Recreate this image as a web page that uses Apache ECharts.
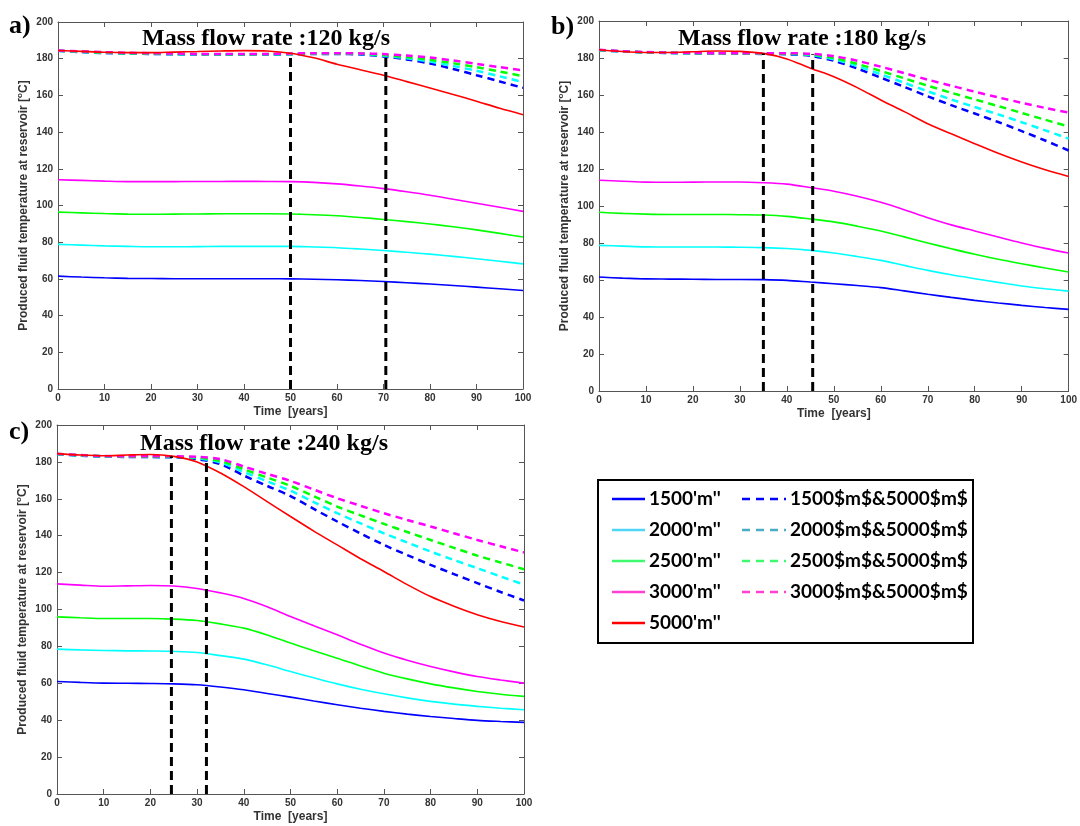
<!DOCTYPE html>
<html><head><meta charset="utf-8">
<script src="https://cdn.jsdelivr.net/npm/echarts@6/dist/echarts.min.js"></script>
<style>html,body{margin:0;padding:0;background:#fff}#c{width:1080px;height:826px}</style>
</head><body><div id="c"></div>
<script>
const YEARS = [0,5,10,15,20,25,30,35,40,45,50,55,60,65,70,75,80,85,90,95,100];
const X_TICKS = [0,10,20,30,40,50,60,70,80,90,100];
const Y_TICKS = [0,20,40,60,80,100,120,140,160,180,200];
const PANEL_LABELS = ['a)', 'b)', 'c)'];
const PANEL_TITLES = ['Mass flow rate :120 kg/s', 'Mass flow rate :180 kg/s', 'Mass flow rate :240 kg/s'];
const SOLID_NAMES = ["1500'm''", "2000'm''", "2500'm''", "3000'm''", "5000'm''"];
const DASH_NAMES = ['1500$m$&5000$m$', '2000$m$&5000$m$', '2500$m$&5000$m$', '3000$m$&5000$m$'];
const COLORS = ['#0000ff', '#00ffff', '#00ff00', '#ff00ff', '#ff0000'];
const LEGEND_SOLID_COLORS = ['#0000ff', '#4fd5f5', '#3dfa6e', '#ff40d0', '#ff0000'];
const LEGEND_DASH_COLORS = ['#0000ff', '#4bacc6', '#3dfa6e', '#ff40d0'];

// Panel a) 120 kg/s
const A_SOLID_1500 = [61.5,61,60.6,60.3,60.2,60.1,60.1,60.1,60.1,60.1,60,59.8,59.5,59.1,58.6,57.9,57.2,56.4,55.5,54.6,53.7];
const A_SOLID_2000 = [78.8,78.4,78,77.7,77.5,77.5,77.6,77.7,77.7,77.7,77.7,77.4,77,76.3,75.5,74.5,73.5,72.3,71,69.6,68.2];
const A_SOLID_2500 = [96.4,96,95.6,95.3,95.2,95.3,95.4,95.5,95.5,95.5,95.4,95,94.4,93.5,92.4,91.2,89.9,88.4,86.7,84.8,82.8];
const A_SOLID_3000 = [114,113.7,113.3,113,113,113,113.1,113.1,113.2,113.1,113,112.6,111.8,110.6,109.2,107.5,105.6,103.4,101.2,99,96.8];
const A_SOLID_5000 = [184.5,184,183.5,183.3,183.3,183.6,183.9,184.2,184.4,184.2,183,180.5,177,174,171,167.5,164,160.5,156.8,153,149.5];
const A_DASH_1500 = [184.3,183.6,183.1,182.8,182.6,182.4,182.3,182.2,182.2,182.3,182.4,182.6,182.6,182.3,181.2,179.6,177.4,174.4,171,167.6,164.1];
const A_DASH_2000 = [184.3,183.7,183.2,182.9,182.7,182.5,182.4,182.3,182.3,182.4,182.5,182.7,182.8,182.6,181.6,180.2,178.4,176,173.4,170.4,167.2];
const A_DASH_2500 = [184.4,183.8,183.3,183,182.8,182.6,182.5,182.4,182.4,182.5,182.6,182.8,182.9,182.8,182,180.9,179.4,177.5,175.4,173,170.5];
const A_DASH_3000 = [184.5,184,183.6,183.2,183,182.8,182.6,182.5,182.5,182.6,182.8,183,183,182.9,182.5,181.7,180.6,179,177.2,175.4,173.6];
const A_MARKS = [50, 70.5];
const A_MARK_TOPS = [183, 182];

// Panel b) 180 kg/s
const B_SOLID_1500 = [61.6,61,60.6,60.5,60.4,60.3,60.3,60.2,59.8,58.9,58,57,55.9,54.1,52.3,50.6,49,47.6,46.3,45.1,44.1];
const B_SOLID_2000 = [78.7,78.3,77.9,77.8,77.8,77.8,77.7,77.5,77,76,74.6,72.7,70.6,67.9,65.2,62.8,60.7,58.7,56.8,55.3,54];
const B_SOLID_2500 = [96.6,96,95.6,95.4,95.4,95.4,95.3,95.1,94.4,93,91.4,89.1,86.5,83.3,80,76.9,73.9,71.2,68.8,66.5,64.3];
const B_SOLID_3000 = [113.9,113.4,112.9,112.8,112.9,113,113,112.6,111.8,110,108,105.3,102,98,93.7,89.8,86.5,83.2,80,77.1,74.6];
const B_SOLID_5000 = [184.5,183.5,183,183,183.4,183.8,183.6,182.5,179.5,174.5,169.9,164,157.3,151,144.5,139,133.7,128.5,123.8,119.6,116];
const B_DASH_1500 = [184.2,183.5,183,182.7,182.5,182.4,182.3,182.2,182,181.2,178.5,174.3,169.4,164.4,159.3,154.5,150,145.4,140.5,135.4,130];
const B_DASH_2000 = [184.2,183.5,183,182.7,182.6,182.5,182.4,182.3,182.2,181.6,179.3,175.6,171.2,166.6,162,157.6,153.5,149.5,145.3,140.9,136.4];
const B_DASH_2500 = [184.3,183.6,183.1,182.8,182.6,182.5,182.5,182.4,182.3,182,180,176.8,173,169,165,161.2,157.6,154,150.3,146.6,143];
const B_DASH_3000 = [184.4,183.7,183.2,182.9,182.7,182.6,182.6,182.6,182.6,182.3,181,178.5,175.3,171.8,168.3,165,161.8,158.7,155.8,153,150.5];
const B_MARKS = [35, 45.5];
const B_MARK_TOPS = [182.5, 182];

// Panel c) 240 kg/s
const C_SOLID_1500 = [61,60.5,60.1,60,59.9,59.7,59.2,58,56.5,54.5,52.5,50.4,48.4,46.5,44.8,43.3,42,40.9,39.9,39.3,38.8];
const C_SOLID_2000 = [78.5,78.1,77.8,77.6,77.5,77.3,76.7,75,73.1,70,66.4,63,59.7,56.8,54.3,52.1,50.2,48.7,47.5,46.5,45.7];
const C_SOLID_2500 = [96,95.5,95.1,95.1,95.1,94.8,94,92.2,89.9,86.2,81.8,77.6,73.6,69.4,65.5,62.4,59.7,57.5,55.6,54.1,52.9];
const C_SOLID_3000 = [113.9,113.2,112.6,112.8,113,112.7,111.4,109,106,101.5,96.2,91.2,86.3,81.2,76.4,72.5,69.1,66.2,63.7,61.8,60.1];
const C_SOLID_5000 = [184.5,183.7,183.3,183.7,184,183,180,174,166.6,158.5,150.4,142.5,135,127.5,120.6,113.5,107,101.8,97.2,93.5,90.5];
const C_DASH_1500 = [184.2,183.4,182.9,182.7,182.6,182.5,181.5,178.8,172.6,167,161.5,154.5,147.7,141.2,135,129.5,124.2,119.2,114.3,109.5,104.9];
const C_DASH_2000 = [184.2,183.5,183,182.8,182.7,182.6,182,179.7,174.5,169.5,164.4,158.2,152.2,146.7,141.3,136.3,131.4,126.8,122.4,117.9,113.5];
const C_DASH_2500 = [184.3,183.6,183.1,182.9,182.8,182.8,182.4,180.5,176,171.5,167,161.4,155.8,151,146.4,142,137.7,133.4,129.2,125.5,121.8];
const C_DASH_3000 = [184.4,183.7,183.2,183,183,183,182.8,181.5,177.5,173.5,169.7,165,160.3,156.2,152.2,148.5,145,141.3,137.7,134.3,130.9];
const C_MARKS = [24.5, 32];
const C_MARK_TOPS = [183, 182];

const PANELS = [
  {solid:[A_SOLID_1500,A_SOLID_2000,A_SOLID_2500,A_SOLID_3000,A_SOLID_5000], dash:[A_DASH_1500,A_DASH_2000,A_DASH_2500,A_DASH_3000], marks:A_MARKS, tops:A_MARK_TOPS},
  {solid:[B_SOLID_1500,B_SOLID_2000,B_SOLID_2500,B_SOLID_3000,B_SOLID_5000], dash:[B_DASH_1500,B_DASH_2000,B_DASH_2500,B_DASH_3000], marks:B_MARKS, tops:B_MARK_TOPS},
  {solid:[C_SOLID_1500,C_SOLID_2000,C_SOLID_2500,C_SOLID_3000,C_SOLID_5000], dash:[C_DASH_1500,C_DASH_2000,C_DASH_2500,C_DASH_3000], marks:C_MARKS, tops:C_MARK_TOPS}
];

// layout
const GRIDS = [
  {left:58, top:22, width:465, height:367},
  {left:599, top:21, width:470, height:370},
  {left:57, top:425, width:467, height:369}
];
const TITLE_POS = [{x:272, y:27}, {x:808, y:27}, {x:270, y:432}];
const LABEL_POS = [{x:9, y:13}, {x:551, y:14}, {x:9, y:419}];

const AX_COLOR = '#555';
const LBL = {fontFamily:'Liberation Sans, Arial', fontWeight:'bold', fontSize:10, color:'#333'};

const grid = [], xAxis = [], yAxis = [], series = [], graphic = [];
PANELS.forEach((p, i) => {
  grid.push(Object.assign({containLabel:false}, GRIDS[i]));
  const xb = xAxis.length;
  xAxis.push({type:'value', gridIndex:i, min:0, max:100, interval:10, position:'bottom',
    name:'Time  [years]', nameLocation:'middle', nameGap:17,
    nameTextStyle:{fontFamily:'Liberation Sans, Arial', fontWeight:'bold', fontSize:12, color:'#333'},
    axisLine:{show:true, onZero:false, lineStyle:{color:AX_COLOR, width:1}},
    axisTick:{show:true, inside:true, length:5, lineStyle:{color:AX_COLOR}},
    axisLabel:Object.assign({margin:4, formatter: v => X_TICKS.includes(v) ? String(v) : ''}, LBL),
    splitLine:{show:false}});
  xAxis.push({type:'value', gridIndex:i, min:0, max:100, interval:10, position:'top',
    axisLine:{show:true, onZero:false, lineStyle:{color:AX_COLOR, width:1}},
    axisTick:{show:true, inside:true, length:5, lineStyle:{color:AX_COLOR}},
    axisLabel:{show:false}, splitLine:{show:false}});
  const yb = yAxis.length;
  yAxis.push({type:'value', gridIndex:i, min:0, max:200, interval:20, position:'left',
    name:'Produced fluid temperature at reservoir [{sup|o}C]', nameLocation:'middle', nameGap:27, nameRotate:90,
    nameTextStyle:{fontFamily:'Liberation Sans, Arial', fontWeight:'bold', fontSize:12, color:'#333',
      rich:{sup:{fontFamily:'Liberation Sans, Arial', fontWeight:'bold', fontSize:8, color:'#333', verticalAlign:'top', padding:[0,0,7,0]}}},
    axisLine:{show:true, onZero:false, lineStyle:{color:AX_COLOR, width:1}},
    axisTick:{show:true, inside:true, length:5, lineStyle:{color:AX_COLOR}},
    axisLabel:Object.assign({margin:5, formatter: v => Y_TICKS.includes(v) ? String(v) : ''}, LBL),
    splitLine:{show:false}});
  yAxis.push({type:'value', gridIndex:i, min:0, max:200, interval:20, position:'right',
    axisLine:{show:true, onZero:false, lineStyle:{color:AX_COLOR, width:1}},
    axisTick:{show:true, inside:true, length:5, lineStyle:{color:AX_COLOR}},
    axisLabel:{show:false}, splitLine:{show:false}});

  p.dash.forEach((arr, k) => {
    series.push({type:'line', name:DASH_NAMES[k], xAxisIndex:xb, yAxisIndex:yb,
      data:YEARS.map((t, j) => [t, arr[j]]), smooth:0.3, showSymbol:false, symbol:'none',
      color:COLORS[k], lineStyle:{color:COLORS[k], width:2.5, type:[7,5]}, z:2, silent:true});
  });
  p.solid.forEach((arr, k) => {
    series.push({type:'line', name:SOLID_NAMES[k], xAxisIndex:xb, yAxisIndex:yb,
      data:YEARS.map((t, j) => [t, arr[j]]), smooth:0.3, showSymbol:false, symbol:'none',
      color:COLORS[k], lineStyle:{color:COLORS[k], width:1.6, type:'solid'}, z:3, silent:true});
  });
  p.marks.forEach((m, k) => {
    series.push({type:'line', name:'marker', xAxisIndex:xb, yAxisIndex:yb,
      data:[[m, 0], [m, p.tops[k]]], showSymbol:false, symbol:'none',
      lineStyle:{color:'#000', width:3, type:[9,5]}, z:4, silent:true});
  });

  graphic.push({type:'text', left:TITLE_POS[i].x - 130, top:TITLE_POS[i].y, z:10,
    style:{text:PANEL_TITLES[i], font:'bold 24px "Liberation Serif", "Times New Roman", serif', fill:'#000', width:260, align:'center'}});
  graphic.push({type:'text', left:LABEL_POS[i].x, top:LABEL_POS[i].y, z:10,
    style:{text:PANEL_LABELS[i], font:'bold 26px "Liberation Serif", "Times New Roman", serif', fill:'#000'}});
});

// legend box (drawn as graphic so the line samples carry no marker symbol)
graphic.push({type:'rect', left:597, top:479, z:0,
  shape:{width:375, height:163}, style:{fill:'#fff', stroke:'#000', lineWidth:2}});
const LEG_FONT = 'bold 19px Lato, "Open Sans", sans-serif';
SOLID_NAMES.forEach((nm, r) => {
  const y = 499 + 31 * r;
  graphic.push({type:'line', z:11, shape:{x1:612, y1:y, x2:645, y2:y},
    style:{stroke:LEGEND_SOLID_COLORS[r], lineWidth:2.5}});
  graphic.push({type:'text', z:11, x:649, y:y,
    style:{text:nm, font:LEG_FONT, fill:'#000', verticalAlign:'middle', align:'left'}});
});
DASH_NAMES.forEach((nm, r) => {
  const y = 499 + 31 * r;
  graphic.push({type:'line', z:11, shape:{x1:742, y1:y, x2:786, y2:y},
    style:{stroke:LEGEND_DASH_COLORS[r], lineWidth:2.5, lineDash:[8,6]}});
  graphic.push({type:'text', z:11, x:790, y:y,
    style:{text:nm, font:LEG_FONT, fill:'#000', verticalAlign:'middle', align:'left'}});
});

const chart = echarts.init(document.getElementById('c'), null, {renderer:'canvas'});
chart.setOption({backgroundColor:'#fff', animation:false, grid, xAxis, yAxis, series, graphic});
</script></body></html>
